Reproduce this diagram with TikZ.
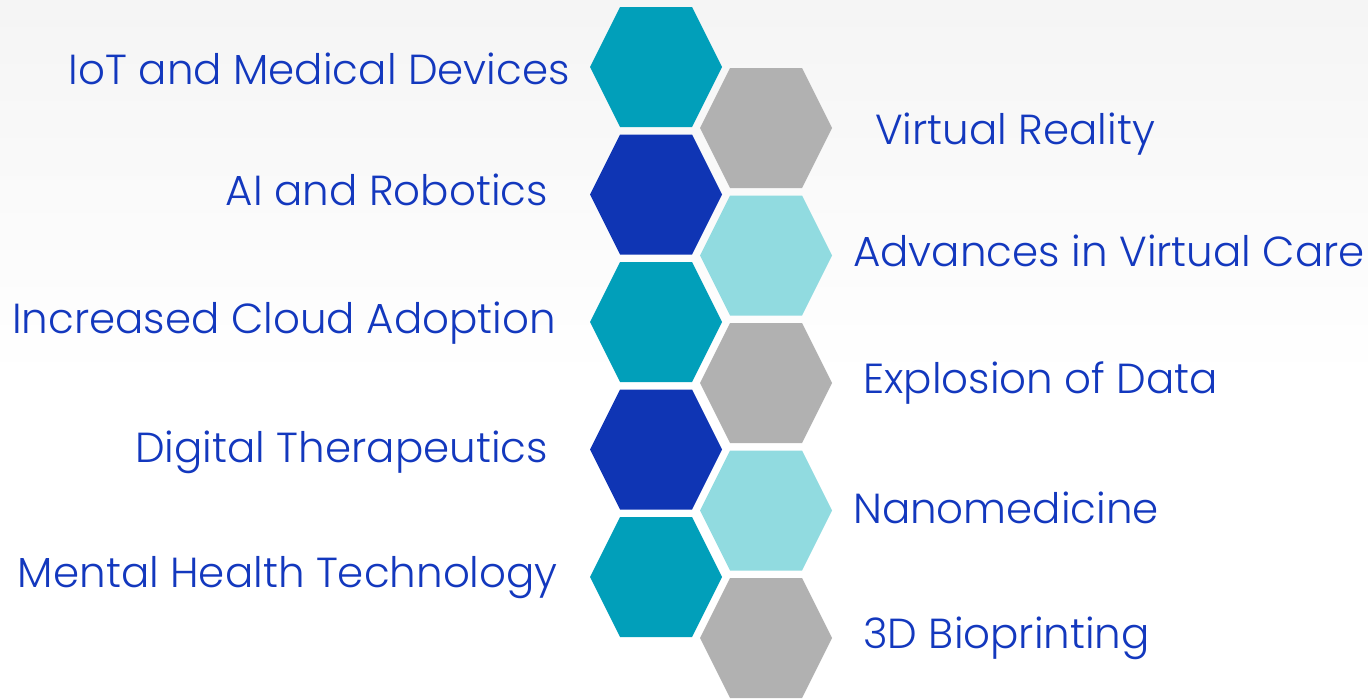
\documentclass[tikz,border=0pt]{standalone}
\usepackage{fontspec}
\setmainfont{Poppins Light}
\definecolor{teal}{HTML}{019FBA}
\definecolor{dblue}{HTML}{0F35B4}
\definecolor{hgray}{HTML}{B1B1B1}
\definecolor{lcyan}{HTML}{91DBE0}
\definecolor{txt}{HTML}{1338BE}
\newcommand{\hexa}[3]{\fill[#3] (#1-66,#2) -- (#1-36,#2-60) -- (#1+36,#2-60) -- (#1+66,#2) -- (#1+36,#2+60) -- (#1-36,#2+60) -- cycle;}
\tikzset{
  lbl/.style={text=txt, font=\fontsize{42}{50}\selectfont, inner sep=0pt},
  lft/.style={lbl, anchor=base east},
  rgt/.style={lbl, anchor=base west},
}
\begin{document}
\begin{tikzpicture}[x=1pt,y=-1pt]
\useasboundingbox (0,0) rectangle (1368,699);
\fill[white] (0,0) rectangle (1368,699);
\shade[top color=black!4, bottom color=white] (0,0) rectangle (1368,380);
% left column
\hexa{656}{67}{teal}
\hexa{656}{194.5}{dblue}
\hexa{656}{322}{teal}
\hexa{656}{449.5}{dblue}
\hexa{656}{577}{teal}
% right column
\hexa{766}{128}{hgray}
\hexa{766}{255.5}{lcyan}
\hexa{766}{383}{hgray}
\hexa{766}{510.5}{lcyan}
\hexa{766}{638}{hgray}
% labels
\node[lft] (l1) at (570,84) {IoT and Medical Devices};
\node[lft] (l2) at (548,205) {AI and Robotics};
\node[lft] (l3) at (556,333) {Increased Cloud Adoption};
\node[lft] (l4) at (548,462) {Digital Therapeutics};
\node[lft] (l5) at (558,587) {Mental Health Technology};
\node[rgt] (r1) at (875,144) {Virtual Reality};
\node[rgt] (r2) at (853,266) {Advances in Virtual Care};
\node[rgt] (r3) at (863,393) {Explosion of Data};
\node[rgt] (r4) at (853,523) {Nanomedicine};
\node[rgt] (r5) at (863,648) {3D Bioprinting};
\end{tikzpicture}
\end{document}
